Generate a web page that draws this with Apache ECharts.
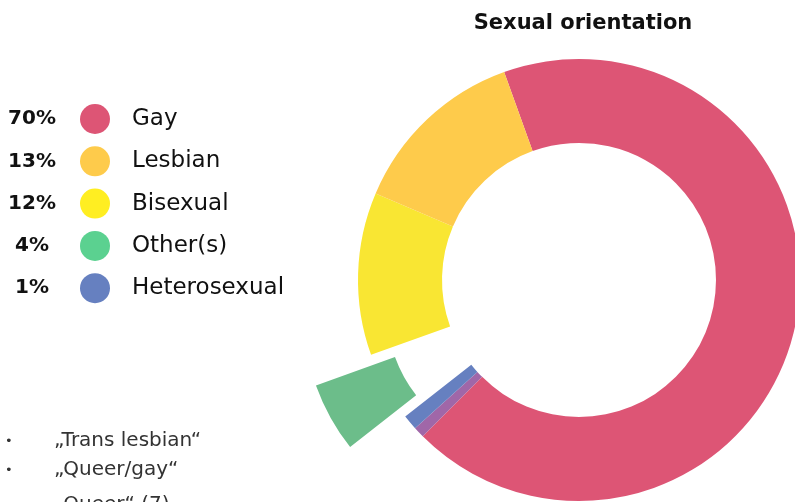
<!DOCTYPE html>
<html>
<head>
<meta charset="utf-8">
<script src="https://cdn.jsdelivr.net/npm/echarts@6/dist/echarts.min.js"></script>
<style>
  html, body { margin: 0; padding: 0; background: #fff; }
  #chart { width: 795px; height: 502px; }
</style>
</head>
<body>
<div id="chart"></div>
<script>
// slice order as drawn, clockwise from the top
var sliceNames = ['Gay', 'Queer/gay', 'Heterosexual', 'Other(s)', 'Bisexual', 'Lesbian']
var sliceValues = [68, 0.8, 1.1, 5.1, 11.9, 13.1]
var sliceColors = ['#DD5575', '#A067A8', '#6680C0', '#6CBD8A', '#F9E633', '#FECB4B']

// legend
var legendNames = ['Gay', 'Lesbian', 'Bisexual', 'Other(s)', 'Heterosexual']
var legendPercents = ['70%', '13%', '12%', '4%', '1%']
var legendColors = ['#DD5575', '#FECB4B', '#FFEE22', '#5BD190', '#6680C0']

var notes = ['\u201eTrans lesbian\u201c', '\u201eQueer/gay\u201c', '\u201eQueer\u201c (7)']
var noteY = [441, 470, 505]

var font = 'DejaVu Sans'
var chart = echarts.init(document.getElementById('chart'))

var graphics = []
legendPercents.forEach(function (p, i) {
    graphics.push({
        type: 'text',
        style: { text: p, x: 32, y: 119 + i * 42.3, align: 'center', verticalAlign: 'middle',
            font: 'bold 20px "' + font + '"', fill: '#111' }
    })
})
notes.forEach(function (n, i) {
    graphics.push({
        type: 'text',
        style: { text: '\u2022', x: 5, y: noteY[i] + 1, verticalAlign: 'middle', font: '13px "' + font + '"', fill: '#333' }
    })
    graphics.push({
        type: 'text',
        style: { text: n, x: 54, y: noteY[i], verticalAlign: 'middle', font: '20px "' + font + '"', fill: '#333' }
    })
})

chart.setOption({
    animation: false,
    title: {
        text: 'Sexual orientation',
        left: 578, top: 8, textAlign: 'center',
        textStyle: { fontFamily: font, fontWeight: 'bold', fontSize: 21, color: '#111' }
    },
    legend: {
        orient: 'vertical',
        left: 75, top: 99,
        icon: 'circle',
        itemWidth: 30, itemHeight: 30,
        itemGap: 12.3,
        selectedMode: false,
        data: legendNames.map(function (n, i) {
            return { name: n, itemStyle: { color: legendColors[i] } }
        }),
        textStyle: { fontFamily: font, fontSize: 23, color: '#111', padding: [0, 0, 0, 17] }
    },
    graphic: graphics,
    series: [{
        type: 'pie',
        center: [579, 280],
        radius: [137, 221],
        startAngle: 109.8,
        clockwise: true,
        selectedMode: 'single',
        selectedOffset: 63,
        label: { show: false },
        labelLine: { show: false },
        emphasis: { disabled: true },
        itemStyle: { borderWidth: 0 },
        data: sliceNames.map(function (n, i) {
            return { name: n, value: sliceValues[i], selected: n === 'Other(s)', itemStyle: { color: sliceColors[i] } }
        })
    }]
})
</script>
</body>
</html>
